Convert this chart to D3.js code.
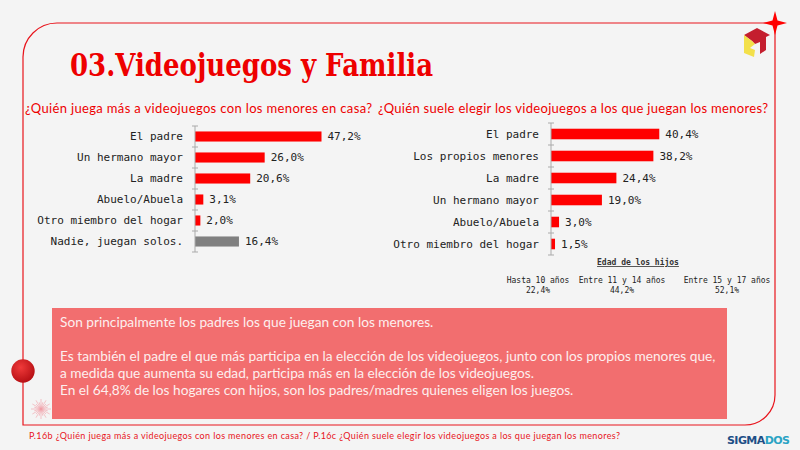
<!DOCTYPE html>
<html>
<head>
<meta charset="utf-8">
<script src="https://cdn.jsdelivr.net/npm/d3@7"></script>
<style>
  body { margin: 0; background: #f4f4f4; }
  svg { display: block; }
</style>
</head>
<body>
<div id="chart"></div>
<script>
var width = 800,
    height = 450;

// left chart data
var juegaCats = ['El padre', 'Un hermano mayor', 'La madre', 'Abuelo/Abuela', 'Otro miembro del hogar', 'Nadie, juegan solos.'];
var juegaVals = [47.2, 26.0, 20.6, 3.1, 2.0, 16.4];

// right chart data
var eligeCats = ['El padre', 'Los propios menores', 'La madre', 'Un hermano mayor', 'Abuelo/Abuela', 'Otro miembro del hogar'];
var eligeVals = [40.4, 38.2, 24.4, 19.0, 3.0, 1.5];

// edad de los hijos
var edadCats = ['Hasta 10 años', 'Entre 11 y 14 años', 'Entre 15 y 17 años'];
var edadVals = [22.4, 44.2, 52.1];

var textoLineas = [
    'Son principalmente los padres los que juegan con los menores.',
    '',
    'Es también el padre el que más participa en la elección de los videojuegos, junto con los propios menores que,',
    'a medida que aumenta su edad, participa más en la elección de los videojuegos.',
    'En el 64,8% de los hogares con hijos, son los padres/madres quienes eligen los juegos.'
];

var red = '#ff0000';
var mono = '"DejaVu Sans Mono", "Liberation Mono", monospace';
var sans = 'Lato, "Noto Sans", sans-serif';

var es = d3.formatLocale({decimal: ',', thousands: '.', grouping: [3], currency: ['', '€']});
var pct = function(v){ return es.format('.1f')(v) + '%'; };

var svg = d3.select('#chart').append('svg')
    .attr('width', width)
    .attr('height', height);

svg.append('rect').attr('width', width).attr('height', height).attr('fill', '#f4f4f4');

// frame
var r1 = 34, r2 = 30;
svg.append('path')
    .attr('d', 'M775,23 L' + (23 + r1) + ',23 A' + r1 + ',' + r1 + ' 0 0 0 23,' + (23 + r1) +
        ' L23,425 L' + (775 - r2) + ',425 A' + r2 + ',' + r2 + ' 0 0 0 775,' + (425 - r2) + ' Z')
    .attr('fill', 'none')
    .attr('stroke', '#e8141c')
    .attr('stroke-width', 1.2);

// star at the top-right corner
svg.append('path')
    .attr('d', 'M775,11 L777.5,20.5 L787,23 L777.5,25.5 L775,35 L772.5,25.5 L763,23 L772.5,20.5 Z')
    .attr('fill', red);

// logo
var logo = svg.append('g').attr('transform', 'translate(744,28)');
logo.append('path').attr('d', 'M0,7 L13,0 L26,7 L22,9 L22,22 L16,26 L16,14 L11,16 L8,13 Z').attr('fill', '#c41e2e');
logo.append('path').attr('d', 'M0,7 L8,13 L11,16 L6,20 L11,22 L10,29 L0,25 Z').attr('fill', '#f3e04a');

// title
svg.append('text')
    .attr('x', 70).attr('y', 76)
    .attr('textLength', 363)
    .attr('lengthAdjust', 'spacingAndGlyphs')
    .style('font-family', '"DejaVu Serif", "Liberation Serif", serif')
    .style('font-weight', 900)
    .style('font-size', '32px')
    .attr('fill', '#ee0000')
    .text('03.Videojuegos y Familia');

// subtitles
svg.append('text')
    .attr('x', 25).attr('y', 113)
    .attr('textLength', 347)
    .style('font-family', sans).style('font-size', '13px')
    .attr('fill', '#ee0000')
    .text('¿Quién juega más a videojuegos con los menores en casa?');

svg.append('text')
    .attr('x', 378).attr('y', 113)
    .attr('textLength', 390)
    .style('font-family', sans).style('font-size', '13px')
    .attr('fill', '#ee0000')
    .text('¿Quién suele elegir los videojuegos a los que juegan los menores?');

var xScale = d3.scaleLinear().domain([0, 50]).range([0, 134]);

function barChart(cats, vals, x0, y0, y1, greyLast){
    var yScale = d3.scaleBand()
        .domain(cats)
        .range([y0, y1])
        .paddingInner(0.52)
        .paddingOuter(0.26);

    var g = svg.append('g').attr('transform', 'translate(' + x0 + ',0)');

    g.selectAll('rect.bar')
        .data(vals)
        .enter().append('rect')
        .attr('class', 'bar')
        .attr('x', 0)
        .attr('y', function(d, i){ return yScale(cats[i]); })
        .attr('width', function(d){ return xScale(d); })
        .attr('height', yScale.bandwidth())
        .attr('fill', function(d, i){ return (greyLast && i === cats.length - 1) ? '#808080' : red; });

    g.selectAll('text.val')
        .data(vals)
        .enter().append('text')
        .attr('class', 'val')
        .attr('x', function(d){ return xScale(d) + 6; })
        .attr('y', function(d, i){ return yScale(cats[i]) + yScale.bandwidth() / 2; })
        .attr('dy', '0.35em')
        .style('font-family', mono).style('font-size', '11px')
        .attr('fill', '#222')
        .text(pct);

    var axis = g.append('g')
        .call(d3.axisLeft(yScale).tickSize(0).tickPadding(12));
    axis.select('.domain').remove();
    axis.selectAll('text')
        .style('font-family', mono).style('font-size', '11px')
        .attr('fill', '#222');

    // axis line with ticks between categories
    var step = yScale.step();
    var edges = d3.range(cats.length + 1).map(function(i){ return y0 + i * step; });
    g.append('line')
        .attr('x1', 0).attr('x2', 0)
        .attr('y1', y0).attr('y2', y1)
        .attr('stroke', '#aaa');
    g.selectAll('line.tk')
        .data(edges)
        .enter().append('line')
        .attr('class', 'tk')
        .attr('x1', -3).attr('x2', 3)
        .attr('y1', function(d){ return d; }).attr('y2', function(d){ return d; })
        .attr('stroke', '#aaa');
}

barChart(juegaCats, juegaVals, 195, 126, 252, true);
barChart(eligeCats, eligeVals, 551, 123, 255, false);

// edad de los hijos
svg.append('text')
    .attr('x', 638).attr('y', 265)
    .attr('text-anchor', 'middle')
    .style('font-family', mono).style('font-size', '8px').style('font-weight', 'bold')
    .style('text-decoration', 'underline')
    .attr('fill', '#333')
    .text('Edad de los hijos');

var edadPos = [538, 622, 727];
var edad = svg.selectAll('g.edad')
    .data(edadCats)
    .enter().append('g')
    .attr('class', 'edad')
    .attr('transform', function(d, i){ return 'translate(' + edadPos[i] + ',0)'; });
edad.append('text')
    .attr('y', 283)
    .attr('text-anchor', 'middle')
    .style('font-family', mono).style('font-size', '8px')
    .attr('fill', '#222')
    .text(function(d){ return d; });
edad.append('text')
    .attr('y', 293)
    .attr('text-anchor', 'middle')
    .style('font-family', mono).style('font-size', '8px')
    .attr('fill', '#222')
    .text(function(d, i){ return pct(edadVals[i]); });

// text box
svg.append('rect')
    .attr('x', 52).attr('y', 308)
    .attr('width', 675).attr('height', 111)
    .attr('fill', '#f26e6f');

svg.selectAll('text.nota')
    .data(textoLineas)
    .enter().append('text')
    .attr('class', 'nota')
    .attr('x', 60)
    .attr('y', function(d, i){ return 327 + i * 17; })
    .style('font-family', sans).style('font-size', '13.7px')
    .attr('fill', '#fdeeee')
    .text(function(d){ return d; });

// decorations on the left line
var grad = svg.append('defs').append('radialGradient')
    .attr('id', 'ball').attr('cx', '40%').attr('cy', '35%').attr('r', '70%');
grad.append('stop').attr('offset', '0%').attr('stop-color', '#f03a3a');
grad.append('stop').attr('offset', '100%').attr('stop-color', '#b30d12');
svg.append('circle')
    .attr('cx', 23).attr('cy', 371).attr('r', 11.7)
    .attr('fill', 'url(#ball)');

var burst = svg.append('g').attr('transform', 'translate(41,409)');
burst.selectAll('line')
    .data(d3.range(24))
    .enter().append('line')
    .attr('x1', 0).attr('y1', 0)
    .attr('x2', function(d){ return Math.cos(d / 24 * 2 * Math.PI) * (d % 2 ? 7 : 10); })
    .attr('y2', function(d){ return Math.sin(d / 24 * 2 * Math.PI) * (d % 2 ? 7 : 10); })
    .attr('stroke', '#f2a0a8')
    .attr('stroke-width', 0.6);

// footer
svg.append('text')
    .attr('x', 29).attr('y', 439)
    .attr('textLength', 591)
    .style('font-family', sans).style('font-size', '9px')
    .attr('fill', '#e8141c')
    .text('P.16b ¿Quién juega más a videojuegos con los menores en casa? / P.16c ¿Quién suele elegir los videojuegos a los que juegan los menores?');

var sig = svg.append('text')
    .attr('x', 727).attr('y', 444)
    .attr('textLength', 63)
    .style('font-family', '"DejaVu Sans", sans-serif')
    .style('font-size', '11px').style('font-weight', 'bold');
sig.append('tspan').attr('fill', '#1d4f86').text('SIGMA');
sig.append('tspan').attr('fill', '#2aa3c4').text('DOS');
</script>
</body>
</html>
